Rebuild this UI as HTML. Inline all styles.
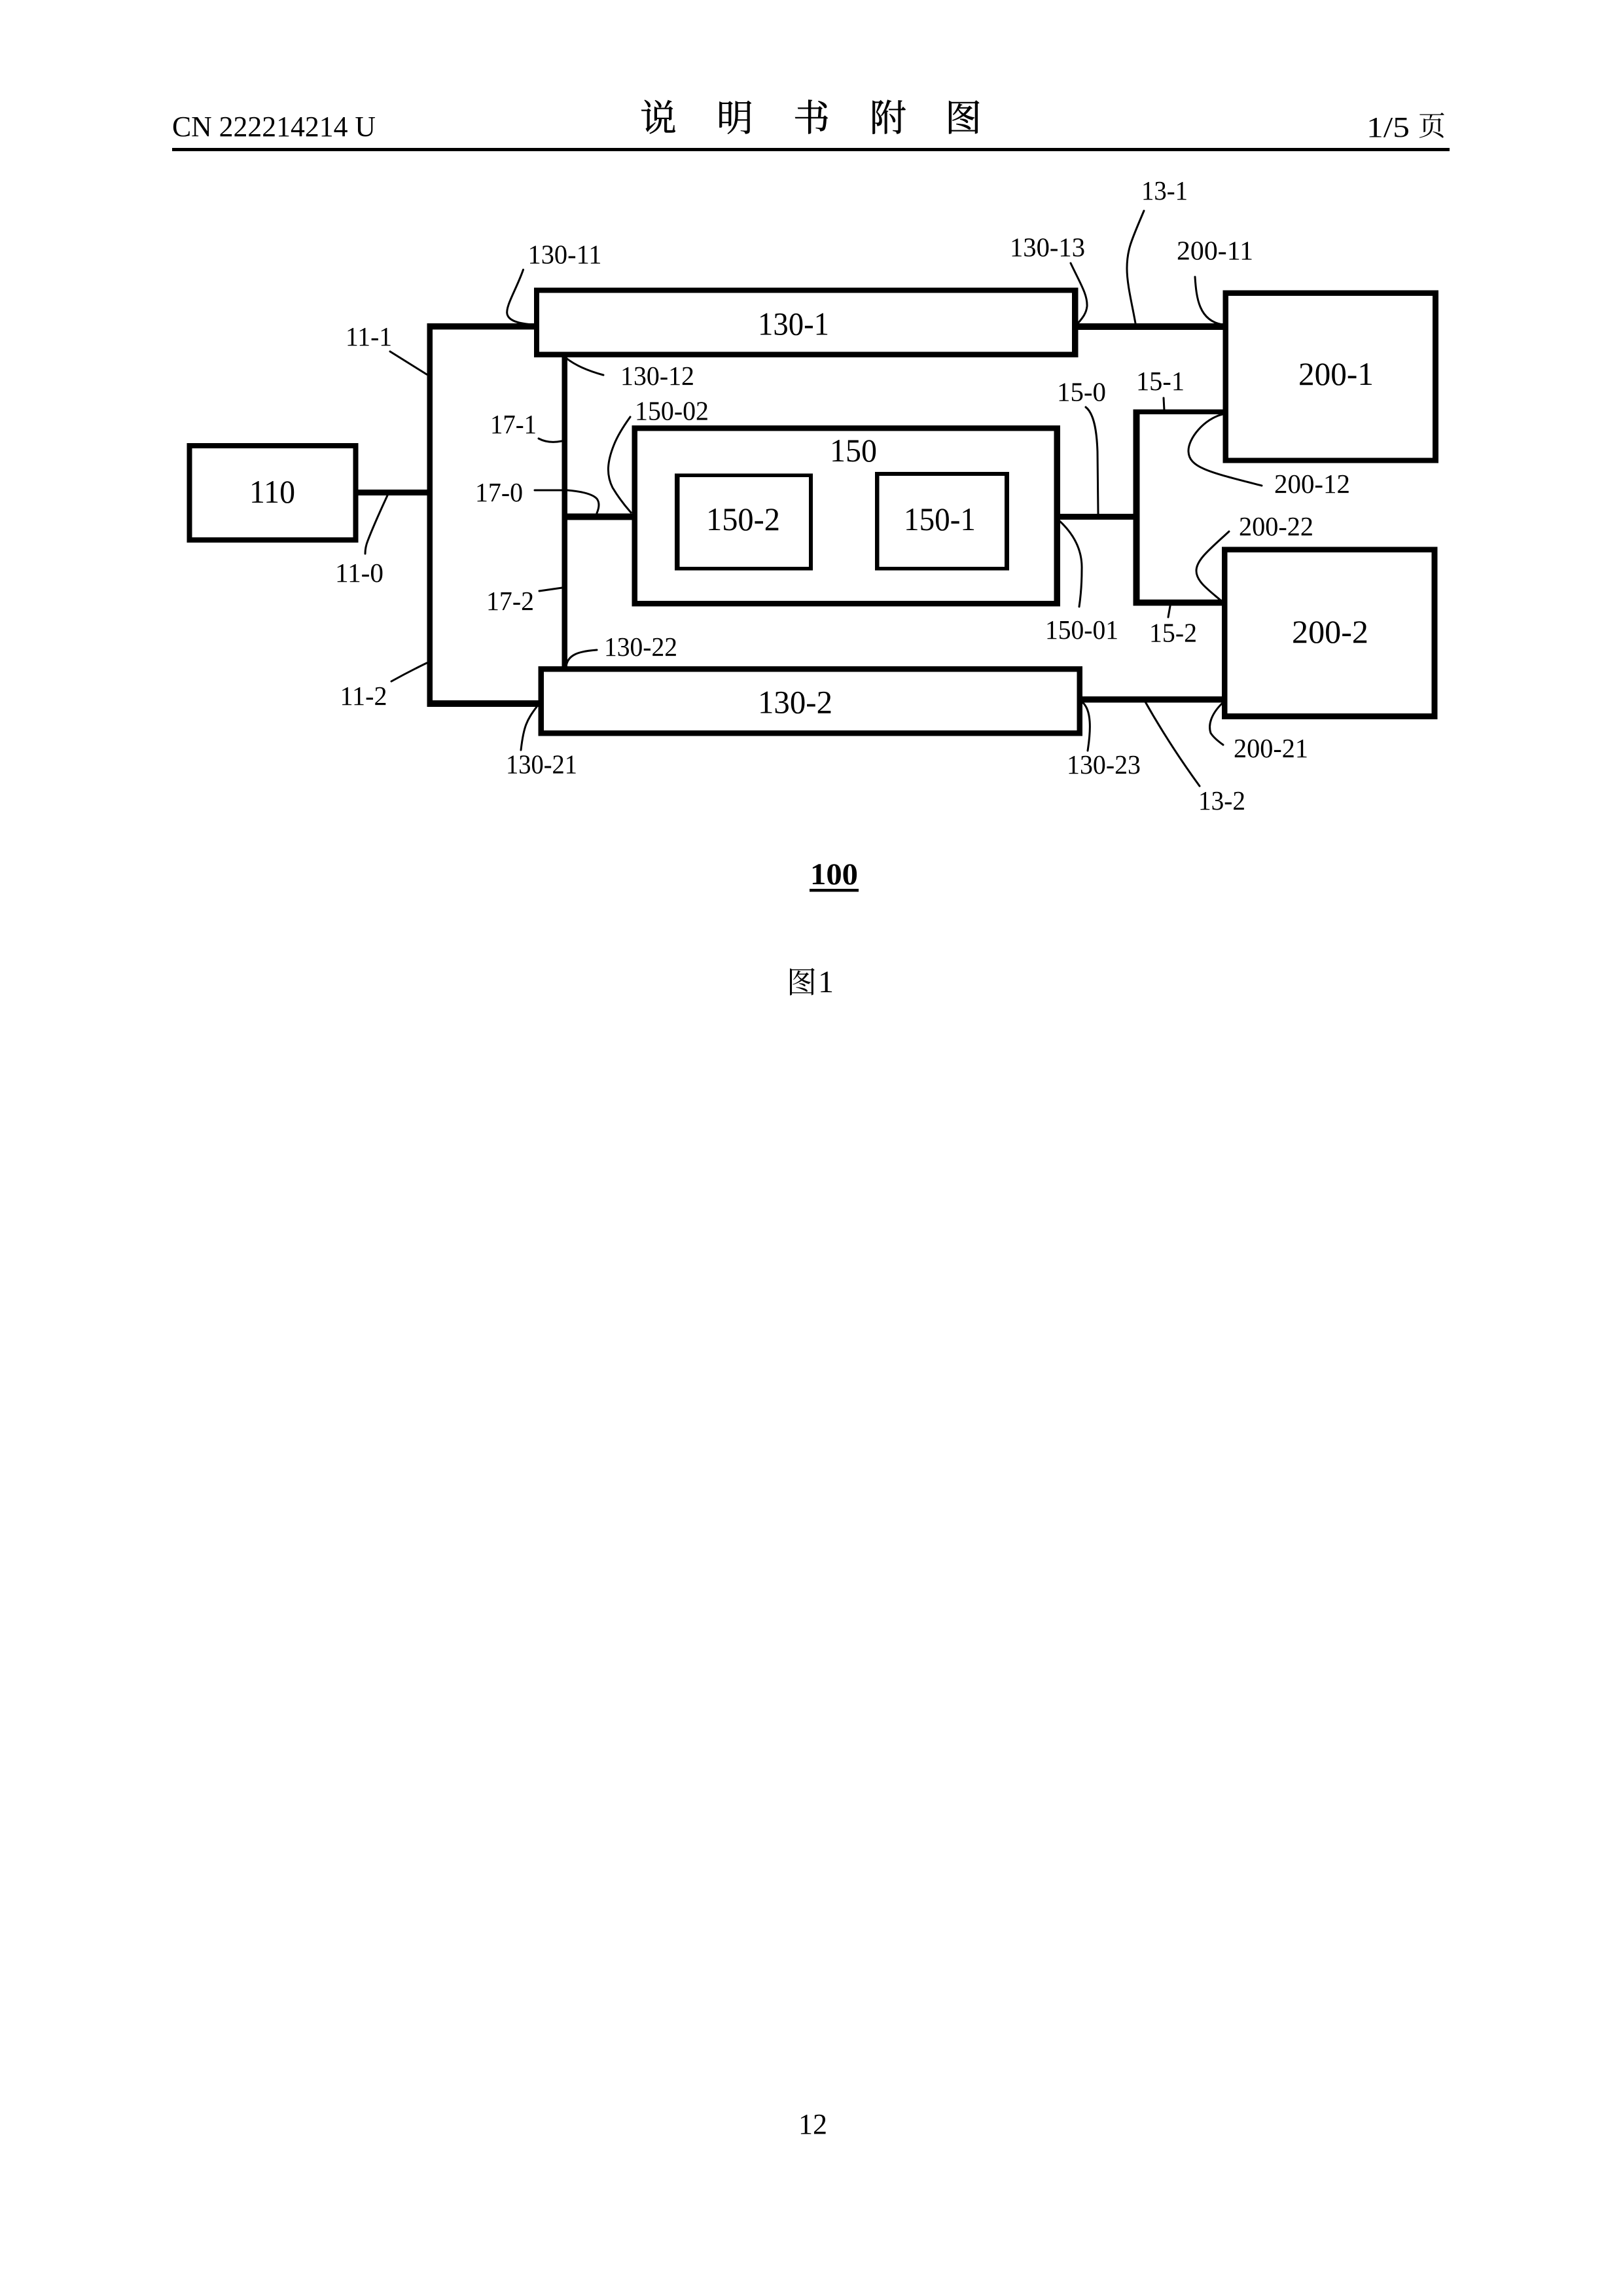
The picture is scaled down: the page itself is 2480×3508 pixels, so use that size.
<!DOCTYPE html>
<html lang="zh">
<head>
<meta charset="utf-8">
<title>CN 222214214 U</title>
<style>
html,body{margin:0;padding:0;background:#fff;width:2480px;height:3508px;overflow:hidden}
svg{display:block}
text{font-family:"Liberation Serif","Noto Serif CJK SC",serif;fill:#000}
.s{font-size:41px}
.b{font-size:50px}
.h{font-size:44px}
.c{font-family:"Liberation Serif","Noto Serif CJK SC",serif;font-size:56px;text-anchor:middle;stroke:#000;stroke-width:.6}
.l{fill:none;stroke:#000;stroke-width:3;stroke-linecap:round;stroke-linejoin:round}
</style>
</head>
<body>
<svg xmlns="http://www.w3.org/2000/svg" width="2480" height="3508" viewBox="0 0 2480 3508">
<rect width="2480" height="3508" fill="#fff"/>

<!-- header -->
<text class="h" x="263" y="208" textLength="311" lengthAdjust="spacingAndGlyphs">CN 222214214 U</text>
<text class="c" x="1006" y="200">说</text>
<text class="c" x="1123" y="200">明</text>
<text class="c" x="1240" y="200">书</text>
<text class="c" x="1357" y="200">附</text>
<text class="c" x="1472" y="200">图</text>
<text class="h" x="2088" y="209" textLength="66" lengthAdjust="spacingAndGlyphs">1/5</text>
<text x="2167" y="207" style="font-size:42px">页</text>
<rect x="263" y="226" width="1952" height="5" fill="#000"/>

<!-- connectors (thick) -->
<g fill="#000">
<rect x="547" y="748" width="108" height="9"/>
<rect x="652.5" y="494" width="8.5" height="586"/>
<rect x="656" y="494" width="162" height="9.5"/>
<rect x="653" y="1070" width="170" height="10"/>
<rect x="858.5" y="540" width="8.5" height="482"/>
<rect x="866" y="784.5" width="101" height="10"/>
<rect x="1645" y="494" width="225" height="10"/>
<rect x="1618" y="785" width="116" height="9"/>
<rect x="1731.5" y="625.5" width="10" height="300"/>
<rect x="1735" y="625.5" width="135" height="7.5"/>
<rect x="1735" y="916" width="134" height="9.5"/>
<rect x="1650" y="1064" width="219" height="9.5"/>
</g>

<!-- boxes -->
<g fill="#000">
<rect x="285.5" y="677" width="262" height="152"/>
<rect x="816" y="439.5" width="831.5" height="106.5"/>
<rect x="822.5" y="1018" width="831.5" height="106.5"/>
<rect x="965.5" y="650" width="654.5" height="276.5"/>
<rect x="1868.5" y="443.5" width="329.5" height="264"/>
<rect x="1867" y="835.5" width="329.5" height="263.5"/>
</g>
<g fill="#fff">
<rect x="293.5" y="685" width="246" height="136"/>
<rect x="824" y="447.5" width="814" height="90"/>
<rect x="831" y="1026.5" width="814.5" height="89.5"/>
<rect x="974" y="658.5" width="636.5" height="259.5"/>
<rect x="1877" y="452" width="312" height="247.5"/>
<rect x="1875.5" y="844" width="312" height="246"/>
</g>
<rect x="1031" y="723.5" width="211" height="148" fill="#000"/>
<rect x="1038.5" y="729" width="197.5" height="137" fill="#fff"/>
<rect x="1337" y="721" width="205" height="150.5" fill="#000"/>
<rect x="1343.5" y="727" width="191.5" height="139" fill="#fff"/>

<!-- leader lines -->
<g class="l">
<path d="M596 537 L652 572"/>
<path d="M592 757 Q572 800 562 826 Q558 836 558 846"/>
<path d="M799.5 412 C 790 440,772 468,775 480 C 778 492,798 495,816 496"/>
<path d="M865 547 Q885 563 922 573"/>
<path d="M963 637 Q945 662 938 680 C 928 705,926 725,936 745 Q948 765 964 783"/>
<path d="M823 670 Q838 678 858 674"/>
<path d="M817 749 L867 749 Q903 752 912 762 Q918 770 912 784"/>
<path d="M824 903 L859 898"/>
<path d="M598 1041 Q625 1026 652 1013"/>
<path d="M912 993 C 885 995,866 1000,865 1020"/>
<path d="M796 1146 C 800 1110,805 1100,820 1080"/>
<path d="M1636 402 C 1650 432,1662 450,1661 468 C 1660 478,1655 485,1647 494"/>
<path d="M1748 322 C 1730 365,1722 380,1722 410 C 1722 435,1730 465,1735 494"/>
<path d="M1826 423 C 1828 455,1832 490,1868 496"/>
<path d="M1659 622 C 1672 632,1676 660,1677 690 L1678 785"/>
<path d="M1778 608 L1779 627"/>
<path d="M1868 633 C 1840 640,1815 670,1816 690 C 1817 715,1850 722,1928 742"/>
<path d="M1878 812 C 1850 838,1828 855,1828 872 C 1828 888,1845 900,1865 917"/>
<path d="M1618 795 C 1640 815,1654 840,1653 870 Q1653 900 1649 927"/>
<path d="M1788 926 L1785 943"/>
<path d="M1654 1073 C 1668 1085,1667 1115,1662 1147"/>
<path d="M1747 1067 Q1785 1135 1833 1201"/>
<path d="M1867 1075 C 1850 1092,1846 1108,1850 1120 Q1855 1128 1869 1138"/>
</g>

<!-- node labels -->
<text class="b" x="381" y="768" textLength="70" lengthAdjust="spacingAndGlyphs">110</text>
<text class="b" x="1158" y="511.5" textLength="109" lengthAdjust="spacingAndGlyphs">130-1</text>
<text class="b" x="1158" y="1089.5" textLength="114" lengthAdjust="spacingAndGlyphs">130-2</text>
<text class="b" x="1268" y="705" textLength="72" lengthAdjust="spacingAndGlyphs">150</text>
<text class="b" x="1079" y="810" textLength="113" lengthAdjust="spacingAndGlyphs">150-2</text>
<text class="b" x="1381" y="810" textLength="110" lengthAdjust="spacingAndGlyphs">150-1</text>
<text class="b" x="1984" y="588" textLength="115" lengthAdjust="spacingAndGlyphs">200-1</text>
<text class="b" x="1974" y="982" textLength="117" lengthAdjust="spacingAndGlyphs">200-2</text>

<!-- reference labels -->
<g class="s">
<text x="528" y="528" textLength="71" lengthAdjust="spacingAndGlyphs">11-1</text>
<text x="512" y="889" textLength="74" lengthAdjust="spacingAndGlyphs">11-0</text>
<text x="519.5" y="1077" textLength="72" lengthAdjust="spacingAndGlyphs">11-2</text>
<text x="806.5" y="402.5" textLength="113" lengthAdjust="spacingAndGlyphs">130-11</text>
<text x="948" y="588" textLength="113" lengthAdjust="spacingAndGlyphs">130-12</text>
<text x="970" y="641.5" textLength="113" lengthAdjust="spacingAndGlyphs">150-02</text>
<text x="749" y="662" textLength="71" lengthAdjust="spacingAndGlyphs">17-1</text>
<text x="726" y="766" textLength="73" lengthAdjust="spacingAndGlyphs">17-0</text>
<text x="743" y="932" textLength="73" lengthAdjust="spacingAndGlyphs">17-2</text>
<text x="923" y="1002" textLength="112" lengthAdjust="spacingAndGlyphs">130-22</text>
<text x="773" y="1181.5" textLength="109" lengthAdjust="spacingAndGlyphs">130-21</text>
<text x="1744" y="305" textLength="71" lengthAdjust="spacingAndGlyphs">13-1</text>
<text x="1543" y="391.5" textLength="115" lengthAdjust="spacingAndGlyphs">130-13</text>
<text x="1798" y="396.5" textLength="117" lengthAdjust="spacingAndGlyphs">200-11</text>
<text x="1615" y="612.5" textLength="75" lengthAdjust="spacingAndGlyphs">15-0</text>
<text x="1736" y="596" textLength="74" lengthAdjust="spacingAndGlyphs">15-1</text>
<text x="1947" y="753" textLength="116" lengthAdjust="spacingAndGlyphs">200-12</text>
<text x="1893" y="818" textLength="114" lengthAdjust="spacingAndGlyphs">200-22</text>
<text x="1597" y="976" textLength="112" lengthAdjust="spacingAndGlyphs">150-01</text>
<text x="1756" y="980.5" textLength="73" lengthAdjust="spacingAndGlyphs">15-2</text>
<text x="1885" y="1157" textLength="114" lengthAdjust="spacingAndGlyphs">200-21</text>
<text x="1630" y="1182" textLength="113" lengthAdjust="spacingAndGlyphs">130-23</text>
<text x="1831" y="1237" textLength="72" lengthAdjust="spacingAndGlyphs">13-2</text>
</g>

<!-- figure number and caption -->
<text x="1238" y="1351" style="font-size:47px;font-weight:bold" textLength="73" lengthAdjust="spacingAndGlyphs">100</text>
<rect x="1237" y="1358" width="75" height="4.5" fill="#000"/>
<text x="1202" y="1517" style="font-size:46px">图</text>
<text x="1250" y="1516" style="font-size:48px">1</text>
<text x="1220" y="3260" style="font-size:44px">12</text>
</svg>
</body>
</html>
